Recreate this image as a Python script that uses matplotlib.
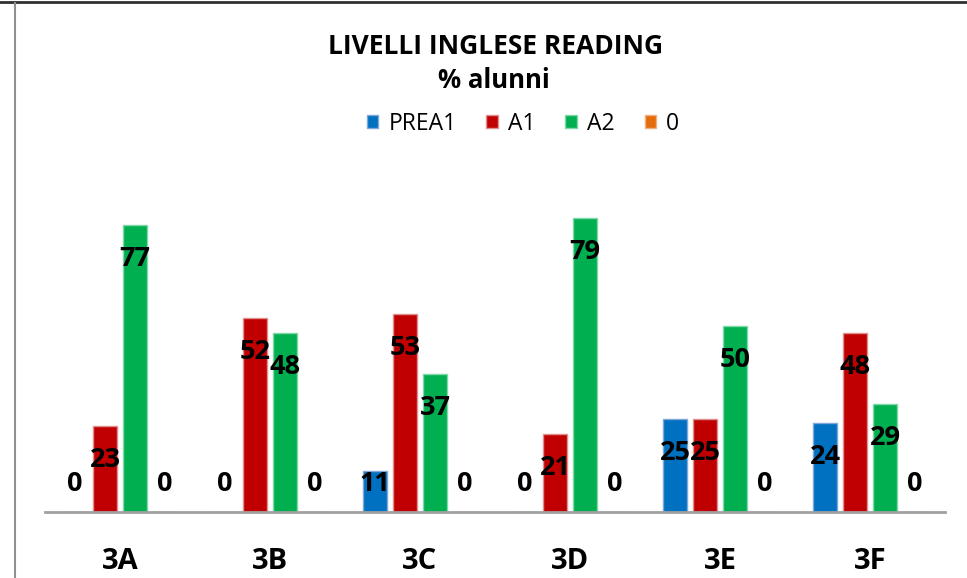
import matplotlib
matplotlib.use("Agg")
import matplotlib.pyplot as plt
from matplotlib.lines import Line2D
import numpy as np

categories = ["3A", "3B", "3C", "3D", "3E", "3F"]
series_names = ["PREA1", "A1", "A2", "0"]
prea1 = [0, 0, 11, 0, 25, 24]
a1 = [23, 52, 53, 21, 25, 48]
a2 = [77, 48, 37, 79, 50, 29]
zero = [0, 0, 0, 0, 0, 0]
colors = ["#0070C0", "#C00000", "#00B050", "#E46C0A"]
edges = ["#7FA8D8", "#E09090", "#80D8A8", "#F0B080"]

plt.rcParams['font.family'] = ['Open Sans', 'DejaVu Sans']

W, H = 967, 578
fig = plt.figure(figsize=(W / 100, H / 100), dpi=100)
fig.patch.set_facecolor("white")

base_px = 512
ppu = 3.727
top_px = base_px - 100 * ppu
ax = fig.add_axes([45 / W, 1 - base_px / H, 900 / W, (base_px - top_px) / H])
ax.set_xlim(-0.5, 5.5)
ax.set_ylim(0, 100)

x = np.arange(len(categories))
offsets = [-0.3, -0.1, 0.1, 0.3]
width = 0.165
all_series = [prea1, a1, a2, zero]
for vals, off, c, ec, name in zip(all_series, offsets, colors, edges, series_names):
    ax.bar(x + off, vals, width=width, color=c, edgecolor=ec, linewidth=1.0, label=name, zorder=2)
    for xi, v in zip(x + off, vals):
        ly = max(v - 34 / ppu, 28 / ppu)
        ax.text(xi, ly, f"{v}", ha="center", va="center", fontsize=19.5,
                fontweight="bold", color="black", zorder=3)

for s in ["top", "right", "left"]:
    ax.spines[s].set_visible(False)
ax.spines["bottom"].set_color("#A0A0A0")
ax.spines["bottom"].set_linewidth(2)
ax.set_yticks([])
ax.set_xticks(x)
ax.set_xticklabels(categories, fontsize=21, fontweight="bold")
ax.tick_params(axis="x", length=0, pad=25)

fig.text(496 / W, 1 - 46 / H, "LIVELLI INGLESE READING", ha="center", va="center",
         fontsize=19, fontweight="bold")
fig.text(494 / W, 1 - 81 / H, "% alunni", ha="center", va="center",
         fontsize=18.5, fontweight="bold")

handles = [plt.Rectangle((0, 0), 1, 1, facecolor=c, edgecolor=ec) for c, ec in zip(colors, edges)]
leg = fig.legend(handles, series_names, loc="center", bbox_to_anchor=(523 / W, 1 - 124 / H),
                 ncol=4, frameon=False, fontsize=16.5, handlelength=0.5, handleheight=0.5,
                 handletextpad=0.45, columnspacing=1.3)

fig.add_artist(Line2D([0, 1], [1 - 1.5 / H, 1 - 1.5 / H], color="#303030", linewidth=2,
                      transform=fig.transFigure))
fig.add_artist(Line2D([15 / W, 15 / W], [0, 1 - 3 / H], color="#909090", linewidth=1.5,
                      transform=fig.transFigure))

fig.savefig("out.png", dpi=100, facecolor="white")
